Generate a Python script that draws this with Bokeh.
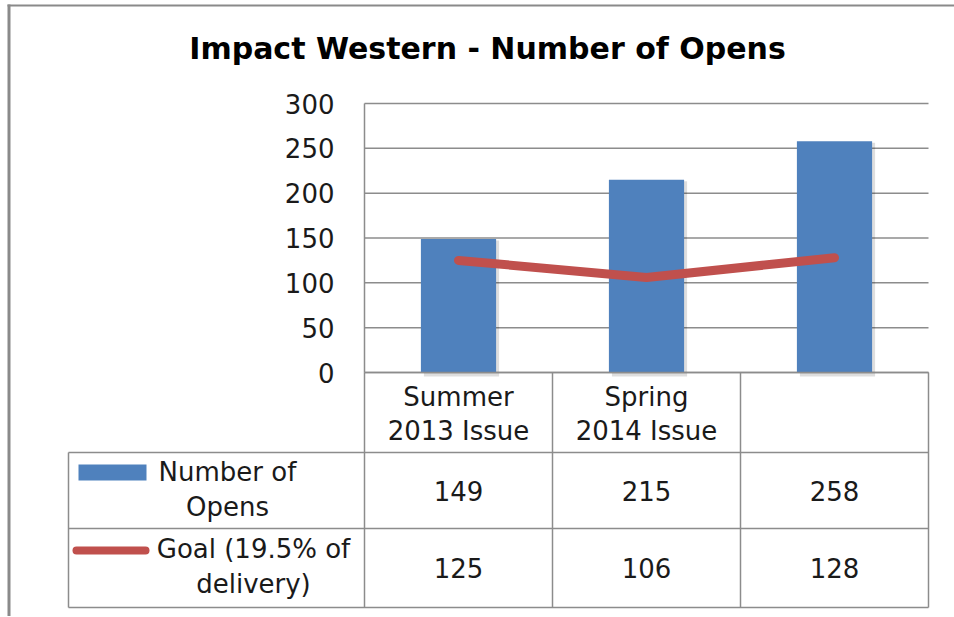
from bokeh.plotting import figure
from bokeh.models import Range1d, FixedTicker, LinearAxis
from bokeh.embed import file_html
from bokeh.resources import INLINE
from bokeh.core.properties import value

# ---------------- data ----------------
title = "Impact Western - Number of Opens"
categories = ["Summer\n2013 Issue", "Spring\n2014 Issue", ""]
opens = [149, 215, 258]
goal = [125, 106, 128]
series_names = ["Number of\nOpens", "Goal (19.5% of\ndelivery)"]
y_ticks = [0, 50, 100, 150, 200, 250, 300]

# ---------------- styles ----------------
FONT = "DejaVu Sans"
GRID = "#8c8c8c"
BORDER = "#8a8a8a"
BLUE = "#4F81BD"
RED = "#C0504D"
TXT = "#1a1a1a"
FS = "26px"

# ---------------- layout (canvas pixels) ----------------
WF, HF = 954, 616
FL, FR, FT, FB = 364, 928, 103, 372     # plot area edges
N = len(opens)
YMAX = y_ticks[-1]
CW = (FR - FL) / N                     # px per category
KY = YMAX / (FB - FT)                  # data units per px (vertical)


def X(px):
    return (px - FL) / CW


def Y(py):
    return (FB - py) * KY


p = figure(width=WF, height=HF, output_backend="svg", toolbar_location=None,
           x_range=Range1d(X(0), X(WF)), y_range=Range1d(Y(HF), Y(0)),
           x_axis_type=None, y_axis_type=None, min_border=0)
p.outline_line_color = None
p.grid.visible = False
p.background_fill_color = "white"
p.border_fill_color = "white"

xs = [i + 0.5 for i in range(N)]

# gridlines
p.segment(x0=[0] * len(y_ticks), x1=[N] * len(y_ticks), y0=y_ticks, y1=y_ticks,
          line_color=GRID, line_width=1.5)

# bar shadow + bars + goal line
p.vbar(x=[x + 3 / CW for x in xs], top=[v - 1.5 * KY for v in opens], bottom=-4 * KY, width=0.4,
       fill_color="black", fill_alpha=0.13, line_color=None)
p.vbar(x=xs, top=opens, width=0.4, fill_color=BLUE, line_color=None)
p.line(x=xs, y=goal, line_width=9, line_color=RED, line_cap="round", line_join="round")

# y axis (fixed inside the canvas at x = 0)
ya = LinearAxis(fixed_location=0, bounds=(0, YMAX), ticker=FixedTicker(ticks=y_ticks))
ya.major_label_text_font = FONT
ya.major_label_text_font_size = FS
ya.major_label_text_color = TXT
ya.major_tick_line_color = None
ya.major_tick_out = 0
ya.minor_tick_line_color = None
ya.axis_line_color = GRID
ya.axis_line_width = 1.5
ya.major_label_standoff = 30
p.add_layout(ya, "left")

# x axis (category labels = header row of the data table)
xa = LinearAxis(fixed_location=0, bounds=(0, N), ticker=FixedTicker(ticks=xs, minor_ticks=[]))
xa.major_label_overrides = {x: c for x, c in zip(xs, categories)}
xa.major_label_text_font = FONT
xa.major_label_text_font_size = FS
xa.major_label_text_color = TXT
xa.major_label_text_line_height = 1.15
xa.major_tick_line_color = None
xa.major_tick_out = 0
xa.major_tick_in = 0
xa.minor_tick_line_color = None
xa.axis_line_color = GRID
xa.axis_line_width = 1.5
xa.major_label_standoff = 9
p.add_layout(xa, "below")

# title
p.text(x=[X(487)], y=[Y(48)], text=[title], text_font=value(FONT), text_font_style="bold",
       text_font_size="30px", text_color="black", text_align="center", text_baseline="middle")

# ---------------- data table ----------------
rows = [Y(452), Y(528), Y(607)]
xl = X(68)
p.segment(x0=[xl] * 3, x1=[N] * 3, y0=rows, y1=rows, line_color=GRID, line_width=1.5)
p.segment(x0=[xl], x1=[xl], y0=[rows[0]], y1=[rows[-1]], line_color=GRID, line_width=1.5)
p.segment(x0=list(range(N + 1)), x1=list(range(N + 1)), y0=[0] * (N + 1),
          y1=[rows[-1]] * (N + 1), line_color=GRID, line_width=1.5)

row_c = [(rows[0] + rows[1]) / 2, (rows[1] + rows[2]) / 2]
for vals, yc in zip([opens, goal], row_c):
    p.text(x=xs, y=[yc] * N, text=[str(v) for v in vals], text_font=value(FONT),
           text_font_size=FS, text_color=TXT, text_align="center", text_baseline="middle")

# legend keys inside the table
p.quad(left=[X(78)], right=[X(146)], top=[Y(464)], bottom=[Y(480)],
       fill_color=BLUE, line_color=None)
p.line(x=[X(76), X(145)], y=[Y(550)] * 2, line_width=8, line_color=RED, line_cap="round")
p.text(x=[X(227), X(253)], y=[Y(489), Y(566)], text=series_names,
       text_font=value(FONT), text_font_size=FS, text_color=TXT,
       text_align="center", text_baseline="middle", text_line_height=1.15)

# outer chart border (left and top edges)
p.segment(x0=[X(8.5), X(7)], x1=[X(8.5), X(WF)], y0=[Y(4), Y(5)], y1=[Y(HF), Y(5)],
          line_color=BORDER, line_width=[3, 2])

open("out.html", "w").write(file_html(p, INLINE))
